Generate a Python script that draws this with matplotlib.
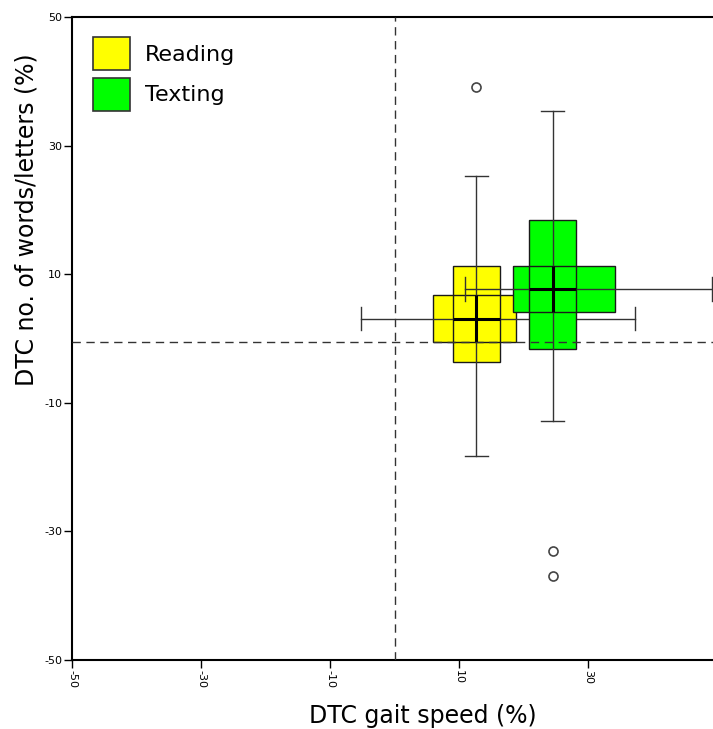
import matplotlib
matplotlib.use('Agg')
import matplotlib.pyplot as plt
from matplotlib.patches import Rectangle, Patch

# dados (medianas, quartis e bigodes em cada eixo)
groups = ['Reading', 'Texting']
colors = ['#ffff00', '#00ff00']

x_med = [12.7, 24.5]
x_q1 = [6.0, 18.3]
x_q3 = [18.8, 34.2]
x_lo = [-5.2, 10.9]
x_hi = [37.3, 49.2]

y_med = [3.1, 7.7]
y_q1 = [-3.7, -1.6]
y_q3 = [11.3, 18.4]
y_lo = [-18.3, -12.9]
y_hi = [25.3, 35.4]

out_x = [[12.6], [24.5, 24.5]]
out_y = [[39.1], [-33.0, -36.9]]

ticks = [-50, -30, -10, 10, 30, 50]

half = 3.65   # meia largura das caixas
cap = 1.8     # meio comprimento das barras nas pontas
edge = '#1a1a1a'
wcol = '#333333'

fig = plt.figure(figsize=(7.13, 7.29), dpi=100)
ax = fig.add_axes([72 / 713, 1 - 660 / 729, 645 / 713, 643 / 729])

z = 2
for i in range(len(groups)):
    # caixas (preenchimento primeiro, contorno depois)
    vbox = Rectangle((x_med[i] - half, y_q1[i]), 2 * half, y_q3[i] - y_q1[i])
    hbox = Rectangle((x_q1[i], y_med[i] - half), x_q3[i] - x_q1[i], 2 * half)
    for r in (vbox, hbox):
        r.set_facecolor(colors[i])
        r.set_edgecolor('none')
        r.set_zorder(z)
        ax.add_patch(r)
    for r in (vbox, hbox):
        o = Rectangle(r.get_xy(), r.get_width(), r.get_height(), facecolor='none',
                      edgecolor=edge, lw=1.0, zorder=z + 0.1)
        ax.add_patch(o)

    # bigodes
    ax.plot([x_lo[i], x_hi[i]], [y_med[i], y_med[i]], color=wcol, lw=1.0, zorder=z + 0.2)
    ax.plot([x_med[i], x_med[i]], [y_lo[i], y_hi[i]], color=wcol, lw=1.0, zorder=z + 0.2)
    for xv in (x_lo[i], x_hi[i]):
        ax.plot([xv, xv], [y_med[i] - cap, y_med[i] + cap], color=wcol, lw=1.0, zorder=z + 0.2)
    for yv in (y_lo[i], y_hi[i]):
        ax.plot([x_med[i] - cap, x_med[i] + cap], [yv, yv], color=wcol, lw=1.0, zorder=z + 0.2)

    # medianas
    ax.plot([x_med[i], x_med[i]], [y_med[i] - half, y_med[i] + half], color='black', lw=2.2,
            zorder=z + 0.3, solid_capstyle='butt')
    ax.plot([x_med[i] - half, x_med[i] + half], [y_med[i], y_med[i]], color='black', lw=2.2,
            zorder=z + 0.3, solid_capstyle='butt')

    # outliers
    ax.plot(out_x[i], out_y[i], 'o', ms=6.5, mfc='white', mec='#444444', mew=1.2, zorder=z + 0.4)
    z += 1

# linhas de referência
ax.axvline(0, color='#333333', lw=1.0, dashes=(6, 4), zorder=10)
ax.axhline(-0.5, color='#333333', lw=1.0, dashes=(6, 4), zorder=10)

ax.set_xlim(-50, 50)
ax.set_ylim(-50, 50)
ax.set_xticks(ticks)
ax.set_yticks(ticks)
ax.set_xticklabels([str(t) for t in ticks], rotation=270, fontsize=8)
ax.set_yticklabels([str(t) for t in ticks], fontsize=8)
ax.tick_params(length=6, width=1.0, pad=1)
ax.spines['right'].set_visible(False)
for s in ('left', 'bottom', 'top'):
    ax.spines[s].set_linewidth(1.5)

ax.set_xlabel('DTC gait speed (%)', fontsize=17)
ax.xaxis.set_label_coords(0.544, -0.069)
ax.set_ylabel('DTC no. of words/letters (%)', fontsize=17)
ax.yaxis.set_label_coords(-0.052, 0.685)

handles = [Patch(facecolor=c, edgecolor='#333333', lw=1.2) for c in colors]
ax.legend(handles, groups, loc='upper left', bbox_to_anchor=(0.0326, 0.969), frameon=False,
          fontsize=16, handlelength=1.67, handleheight=1.91, handletextpad=0.68,
          labelspacing=0.35, borderpad=0, borderaxespad=0)

fig.savefig('out.png', dpi=100)
